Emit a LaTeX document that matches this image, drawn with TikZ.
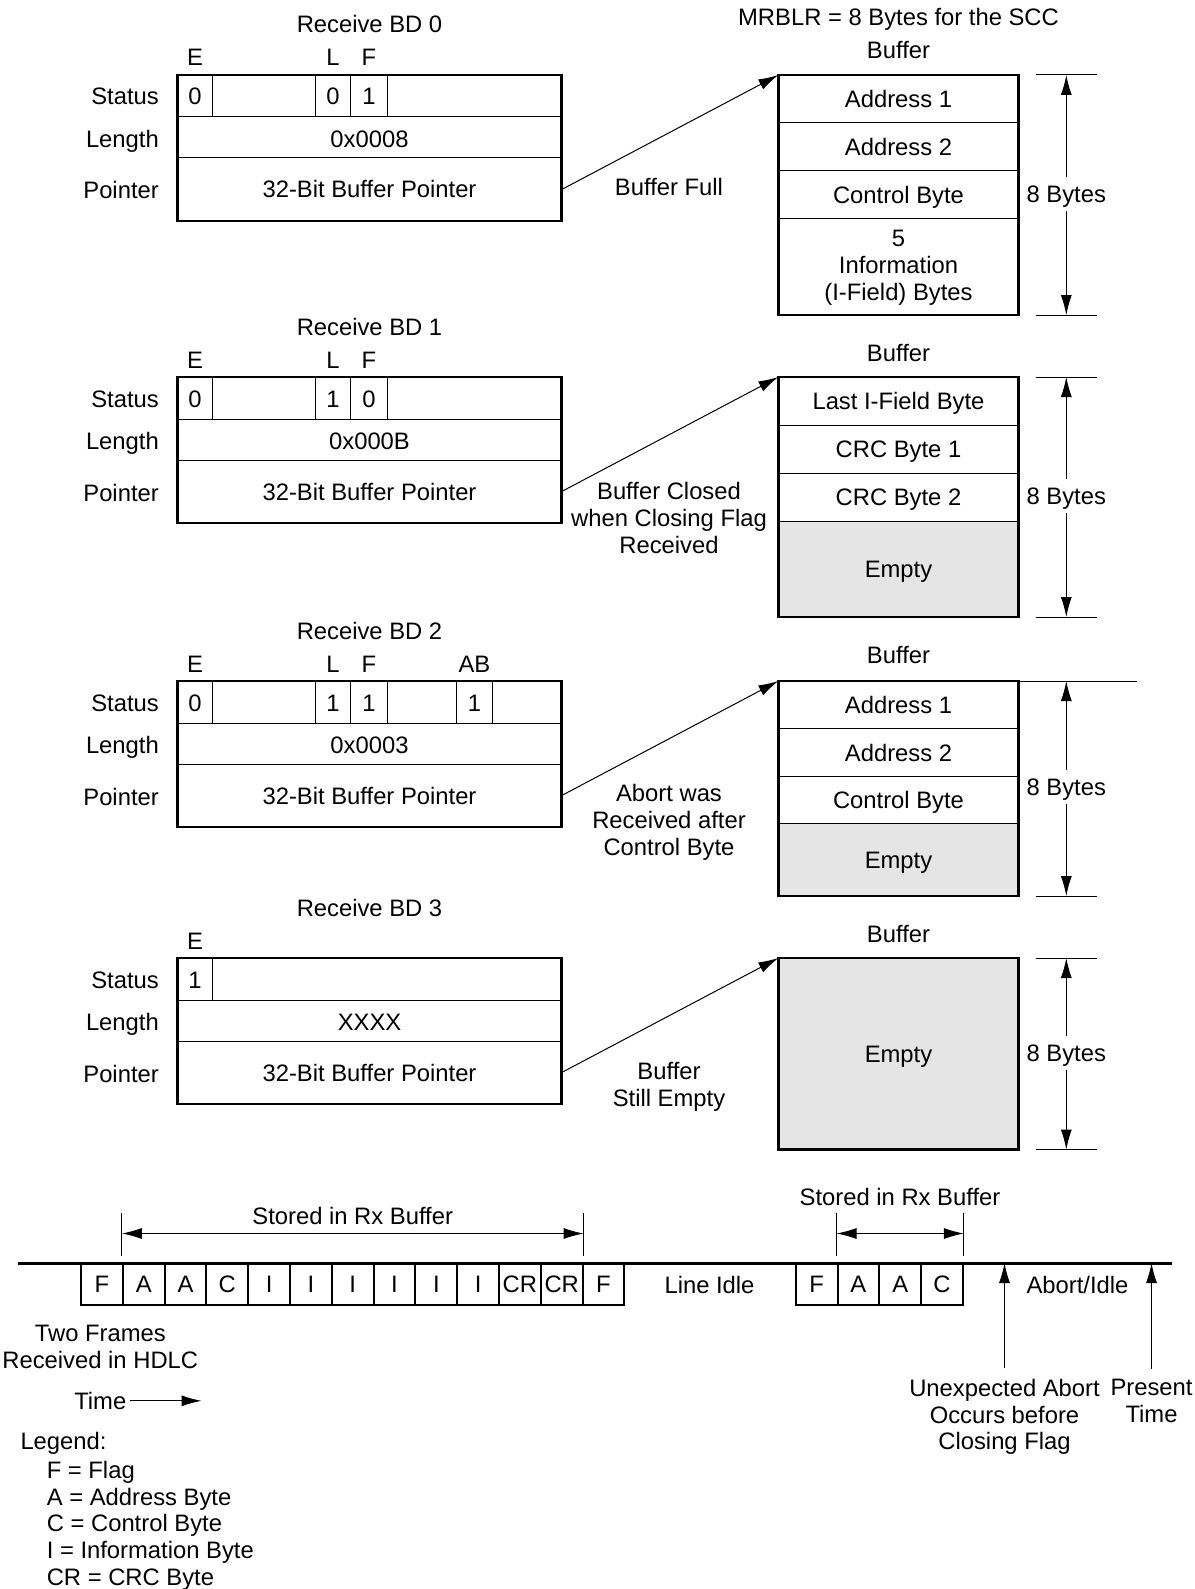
\documentclass[tikz,border=0pt]{standalone}
\usepackage{fontspec}
\setmainfont{Liberation Sans}
\usetikzlibrary{arrows.meta}

\tikzset{
  lbl/.style={text height=17pt, text depth=0pt},
  mlbl/.style={align=center},
  thinline/.style={line width=1pt},
  bdbox/.style={line width=2.8pt},
  bufbox/.style={draw, line width=2.8pt, outer sep=0pt, minimum width=240.3pt, anchor=north, text height=17pt, text depth=0pt},
  emptyfill/.style={fill=gray!20},
  arr/.style={-{Latex[length=20pt,width=11pt]}, line width=1pt},
  dimarr/.style={{Latex[length=20pt,width=11pt]}-{Latex[length=20pt,width=11pt]}, line width=1pt},
  cell/.style={draw, line width=2pt, minimum width=41.8pt, minimum height=42pt, text height=17pt, text depth=0pt}
}

\begin{document}
\begin{tikzpicture}[x=1pt, y=-1pt, font=\fontsize{23.8}{26.8}\selectfont, every node/.style={inner sep=0pt}]
    \useasboundingbox (0,0) rectangle (1194,1589);

    \node[lbl] (mrb) at (898.5,17.2) {MRBLR = 8 Bytes for the SCC};

    % Receive BD 0 (buffer full)
    \begin{scope}[shift={(0,75)}]
    \node[lbl] (bd0) at (369.5,-50.5) {Receive BD 0};
    \node[lbl] (e0) at (195,-17.5) {E};
    \node[lbl] (l0) at (333,-17.5) {L};
    \node[lbl] (f0) at (369,-17.5) {F};
    \node[lbl, anchor=east] (st0) at (159,21.5) {Status};
    \node[lbl, anchor=east] (ln0) at (159,64) {Length};
    \node[lbl, anchor=east] (pt0) at (159,115.5) {Pointer};
    \foreach \x in {212.9,315.2,350.7,387.2} \draw[thinline] (\x,0) -- (\x,42);
    \draw[thinline] (177.4,42) -- (561.5,42) (177.4,83) -- (561.5,83);
    \draw[bdbox] (177.4,0) rectangle (561.5,146);
    \node[lbl] (e0v) at (195,21.5) {0};
    \node[lbl] (l0v) at (333,21.5) {0};
    \node[lbl] (f0v) at (369,21.5) {1};
    \node[lbl] (len0) at (369.5,64) {0x0008};
    \node[lbl, minimum width=384pt, minimum height=63pt] (ptr0) at (369.5,114.5) {32-Bit Buffer Pointer};
    % buffer 0
    \node[lbl] (bt0) at (898.5,-24.5) {Buffer};
    \node[bufbox, minimum height=240pt] (buf0) at (898.5,0) {};
    \foreach \y in {48,96,144} \draw[thinline] (buf0.west |- 0,\y) -- (buf0.east |- 0,\y);
    \node[lbl] (a0a) at (898.5,24) {Address 1};
    \node[lbl] (a0b) at (898.5,72) {Address 2};
    \node[lbl] (c0) at (898.5,120) {Control Byte};
    \node[mlbl] (i0) at (898.5,193) {5\\Information\\(I-Field) Bytes};
    \draw[thinline] (1036,0) -- (1097,0) (1036,240) -- (1097,240);
    \node[lbl, inner ysep=8pt] (sz0) at (1066.3,119) {8 Bytes};
    \draw[arr] (sz0) -- (1066.3,0);
    \draw[arr] (sz0) -- (1066.3,240);
    \draw[arr] (ptr0.east) -- (buf0.north west);
    \node[lbl] (lb0) at (669,112.5) {Buffer Full};
    \end{scope}

    % Receive BD 1 (closing flag)
    \begin{scope}[shift={(0,377)}]
    \node[lbl] (bd1) at (369.5,-50.5) {Receive BD 1};
    \node[lbl] (e1) at (195,-17.5) {E};
    \node[lbl] (l1) at (333,-17.5) {L};
    \node[lbl] (f1) at (369,-17.5) {F};
    \node[lbl, anchor=east] (st1) at (159,21.5) {Status};
    \node[lbl, anchor=east] (ln1) at (159,64) {Length};
    \node[lbl, anchor=east] (pt1) at (159,115.5) {Pointer};
    \foreach \x in {212.9,315.2,350.7,387.2} \draw[thinline] (\x,0) -- (\x,42);
    \draw[thinline] (177.4,42) -- (561.5,42) (177.4,83) -- (561.5,83);
    \draw[bdbox] (177.4,0) rectangle (561.5,146);
    \node[lbl] (e1v) at (195,21.5) {0};
    \node[lbl] (l1v) at (333,21.5) {1};
    \node[lbl] (f1v) at (369,21.5) {0};
    \node[lbl] (len1) at (369.5,64) {0x000B};
    \node[lbl, minimum width=384pt, minimum height=63pt] (ptr1) at (369.5,114.5) {32-Bit Buffer Pointer};
    % buffer 1
    \node[lbl] (bt1) at (898.5,-24.5) {Buffer};
    \fill[emptyfill] (778.4,144) rectangle (1018.7,240);
    \node[bufbox, minimum height=240pt] (buf1) at (898.5,0) {};
    \foreach \y in {48,96,144} \draw[thinline] (buf1.west |- 0,\y) -- (buf1.east |- 0,\y);
    \node[lbl] (li1) at (898.5,24) {Last I-Field Byte};
    \node[lbl] (cr1a) at (898.5,72) {CRC Byte 1};
    \node[lbl] (cr1b) at (898.5,120) {CRC Byte 2};
    \node[lbl] (em1) at (898.5,192) {Empty};
    \draw[thinline] (1036,0) -- (1097,0) (1036,240) -- (1097,240);
    \node[lbl, inner ysep=8pt] (sz1) at (1066.3,119) {8 Bytes};
    \draw[arr] (sz1) -- (1066.3,0);
    \draw[arr] (sz1) -- (1066.3,240);
    \draw[arr] (ptr1.east) -- (buf1.north west);
    \node[mlbl] (lb1) at (669,140.7) {Buffer Closed\\when Closing Flag\\Received};
    \end{scope}

    % Receive BD 2 (abort)
    \begin{scope}[shift={(0,681)}]
    \node[lbl] (bd2) at (369.5,-50.5) {Receive BD 2};
    \node[lbl] (e2) at (195,-17.5) {E};
    \node[lbl] (l2) at (333,-17.5) {L};
    \node[lbl] (f2) at (369,-17.5) {F};
    \node[lbl] (ab2) at (474.4,-17.5) {AB};
    \node[lbl, anchor=east] (st2) at (159,21.5) {Status};
    \node[lbl, anchor=east] (ln2) at (159,64) {Length};
    \node[lbl, anchor=east] (pt2) at (159,115.5) {Pointer};
    \foreach \x in {212.9,315.2,350.7,387.2,456.1,492.6} \draw[thinline] (\x,0) -- (\x,42);
    \draw[thinline] (177.4,42) -- (561.5,42) (177.4,83) -- (561.5,83);
    \draw[bdbox] (177.4,0) rectangle (561.5,146);
    \node[lbl] (e2v) at (195,21.5) {0};
    \node[lbl] (l2v) at (333,21.5) {1};
    \node[lbl] (f2v) at (369,21.5) {1};
    \node[lbl] (ab2v) at (474.4,21.5) {1};
    \node[lbl] (len2) at (369.5,64) {0x0003};
    \node[lbl, minimum width=384pt, minimum height=63pt] (ptr2) at (369.5,114.5) {32-Bit Buffer Pointer};
    % buffer 2
    \node[lbl] (bt2) at (898.5,-26) {Buffer};
    \fill[emptyfill] (778.4,142.5) rectangle (1018.7,215);
    \node[bufbox, minimum height=215pt] (buf2) at (898.5,0) {};
    \foreach \y in {47.5,95,142.5} \draw[thinline] (buf2.west |- 0,\y) -- (buf2.east |- 0,\y);
    \node[lbl] (a2a) at (898.5,24) {Address 1};
    \node[lbl] (a2b) at (898.5,71.5) {Address 2};
    \node[lbl] (c2) at (898.5,119) {Control Byte};
    \node[lbl] (em2) at (898.5,179) {Empty};
    \draw[thinline] (buf2.north east) -- (1137,0) (1036,215) -- (1097,215);
    \node[lbl, inner ysep=8pt] (sz2) at (1066.3,106) {8 Bytes};
    \draw[arr] (sz2) -- (1066.3,0);
    \draw[arr] (sz2) -- (1066.3,215);
    \draw[arr] (ptr2.east) -- (buf2.north west);
    \node[mlbl] (lb2) at (669,141.4) {Abort was\\Received after\\Control Byte};
    \end{scope}

    % Receive BD 3 (still empty)
    \begin{scope}[shift={(0,958)}]
    \node[lbl] (bd3) at (369.5,-50.5) {Receive BD 3};
    \node[lbl] (e3) at (195,-17.5) {E};
    \node[lbl, anchor=east] (st3) at (159,21.5) {Status};
    \node[lbl, anchor=east] (ln3) at (159,64) {Length};
    \node[lbl, anchor=east] (pt3) at (159,115.5) {Pointer};
    \draw[thinline] (212.9,0) -- (212.9,42);
    \draw[thinline] (177.4,42) -- (561.5,42) (177.4,83) -- (561.5,83);
    \draw[bdbox] (177.4,0) rectangle (561.5,146);
    \node[lbl] (e3v) at (195,21.5) {1};
    \node[lbl] (len3) at (369.5,64) {XXXX};
    \node[lbl, minimum width=384pt, minimum height=63pt] (ptr3) at (369.5,114.5) {32-Bit Buffer Pointer};
    % buffer 3
    \node[lbl] (bt3) at (898.5,-24.5) {Buffer};
    \node[bufbox, emptyfill, minimum height=191.5pt] (buf3) at (898.5,0) {Empty};
    \draw[thinline] (1036,0) -- (1097,0) (1036,191.5) -- (1097,191.5);
    \node[lbl, inner ysep=8pt] (sz3) at (1066.3,95) {8 Bytes};
    \draw[arr] (sz3) -- (1066.3,0);
    \draw[arr] (sz3) -- (1066.3,191.5);
    \draw[arr] (ptr3.east) -- (buf3.north west);
    \node[mlbl] (lb3) at (669,129) {Buffer\\Still Empty};
    \end{scope}

    % HDLC line with the two frames
    \coordinate (lineL) at (18.2,1263);
    \coordinate (lineR) at (1171.7,1263);
    \foreach \t [count=\i] in {F,A,A,C,I,I,I,I,I,I,CR,CR,F}
        \node[cell] (fa\i) at ({81+41.8*\i-20.9},1284) {\t};
    \foreach \t [count=\i] in {F,A,A,C}
        \node[cell] (fb\i) at ({795.7+41.8*\i-20.9},1284) {\t};
    \draw[line width=3pt] (lineL) -- (lineR);

    % stored parts
    \draw[thinline] ([yshift=6pt]fa2.north west) -- ++(0,-43);
    \draw[thinline] ([yshift=6pt]fa12.north east) -- ++(0,-43);
    \draw[dimarr] ([yshift=28.5pt]fa2.north west) -- ([yshift=28.5pt]fa12.north east);
    \node[lbl] (sr1) at (352.7,1216.3) {Stored in Rx Buffer};
    \draw[thinline] ([yshift=6pt]fb2.north west) -- ++(0,-43);
    \draw[thinline] ([yshift=6pt]fb4.north east) -- ++(0,-43);
    \draw[dimarr] ([yshift=28.5pt]fb2.north west) -- ([yshift=28.5pt]fb4.north east);
    \node[lbl] (sr2) at (900,1197) {Stored in Rx Buffer};

    \node[lbl] (idle) at (709.5,1285) {Line Idle};
    \node[lbl] (abid) at (1077.5,1285) {Abort/Idle};
    \node[mlbl] (unex) at (1004.5,1417) {Unexpected Abort\\Occurs before\\Closing Flag};
    \node[mlbl] (pres) at (1151.5,1401.3) {Present\\Time};
    \draw[arr] ([yshift=10.5pt]unex.north) -- (unex.north |- lineL);
    \draw[arr] ([yshift=10.5pt]pres.north) -- (pres.north |- lineL);

    % bottom left notes
    \node[mlbl] (two) at (100.3,1347) {Two Frames\\Received in HDLC};
    \node[lbl] (tm) at (100.3,1400.8) {Time};
    \draw[arr] ([xshift=3pt]tm.east) -- ++(72,0);
    \node[lbl, anchor=west] (lgd) at (20.3,1441.3) {Legend:};
    \node[mlbl, align=left, anchor=west] (lgdi) at (46.6,1525.7) {F = Flag\\A = Address Byte\\C = Control Byte\\I = Information Byte\\CR = CRC Byte};
\end{tikzpicture}
\end{document}
